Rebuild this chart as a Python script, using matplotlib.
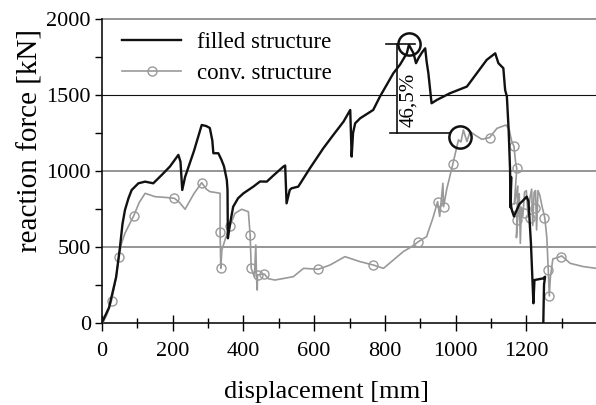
import numpy as np
import matplotlib
matplotlib.use("Agg")
import matplotlib.pyplot as plt
from matplotlib.lines import Line2D

plt.rcParams['font.family'] = ['Liberation Serif', 'DejaVu Serif']

# filled structure (black curve), displacement [mm] / reaction force [kN]
filled_x = [0, 20, 40, 51, 58, 65, 75, 84, 103, 122, 145, 169, 192, 216, 222, 227,
            235, 260, 282, 295, 305, 312, 315, 329, 338, 345, 353, 355, 356, 362,
            371, 385, 400, 428, 447, 466, 485, 513, 518, 522, 531, 536, 555, 588,
            626, 654, 683, 702, 704, 706, 710, 716, 730, 767, 786, 805, 824, 843,
            862, 868, 875, 881, 888, 895, 905, 914, 918, 923, 932, 947, 984, 1032,
            1060, 1088, 1112, 1121, 1135, 1140, 1145, 1150, 1154, 1155, 1157, 1156,
            1159, 1165, 1180, 1192, 1201, 1206, 1213, 1220, 1223, 1248, 1253, 1250,
            1248]
filled_y = [0, 100, 300, 500, 650, 742, 820, 874, 918, 929, 918, 973, 1028, 1105, 1060, 874,
            960, 1130, 1302, 1295, 1282, 1200, 1116, 1116, 1072, 1030, 940, 874, 556, 650,
            764, 820, 852, 896, 930, 929, 970, 1028, 1035, 786, 874, 885, 896, 1017,
            1149, 1236, 1324, 1401, 1250, 1094, 1250, 1313, 1346, 1401, 1489, 1566, 1643, 1700,
            1774, 1830, 1800, 1774, 1709, 1742, 1780, 1807, 1720, 1643, 1445, 1467, 1511, 1555,
            1643, 1731, 1774, 1709, 1676, 1533, 1489, 1268, 1006, 760, 960, 780,
            742, 700, 780, 808, 830, 800, 523, 128, 281, 292, 303, 250,
            0]

# conventional structure (grey curve)
conv_x = [0, 4, 15, 27, 37, 48, 55, 65, 78, 90, 105, 122, 150, 180, 205, 220, 235, 260,
          282, 295, 305, 320, 334, 334, 336, 339, 350, 362, 376, 395, 414, 419, 422,
          431, 435, 437, 439, 440, 450, 459, 470, 489, 541, 570, 612, 645, 687, 730,
          767, 796, 824, 852, 875, 895, 918, 937, 949, 955, 964, 966, 975, 992, 1008,
          1015, 1022, 1032, 1041, 1055, 1074, 1096, 1117, 1143, 1152, 1158, 1165, 1170,
          1173, 1166, 1176, 1172, 1180, 1183, 1186, 1190, 1195, 1200, 1205, 1210, 1215,
          1218, 1222, 1226, 1229, 1233, 1238, 1245, 1252, 1258, 1262, 1265, 1268, 1275,
          1290, 1300, 1324, 1360, 1398]
conv_y = [0, 7, 60, 145, 260, 431, 520, 589, 650, 705, 790, 852, 830, 825, 819, 790, 747, 850,
          922, 880, 863, 858, 852, 600, 358, 479, 560, 637, 720, 747, 731, 578, 358,
          303, 512, 300, 215, 314, 318, 321, 290, 281, 303, 358, 352, 380, 435, 402,
          380, 358, 413, 468, 500, 534, 567, 698, 797, 700, 918, 764, 880, 1043, 1204,
          1190, 1269, 1193, 1258, 1236, 1208, 1219, 1280, 1302, 1269, 1200, 1160, 1050,
          1017, 780, 900, 560, 850, 523, 760, 700, 860, 870, 700, 820, 880,
          640, 860, 870, 611, 870, 840, 760, 694, 560, 347, 176, 300, 420,
          430, 440, 391, 370, 358]
conv_mx = [27, 48, 90, 205, 282, 334, 336, 362, 419, 422, 440, 459, 612, 767, 895, 949,
           966, 992, 1096, 1165, 1175, 1168, 1175, 1192, 1211, 1225, 1250, 1262, 1265, 1299]
conv_my = [145, 431, 705, 819, 922, 600, 358, 637, 578, 358, 314, 321, 352, 380, 534, 797,
           764, 1043, 1219, 1165, 1017, 764, 677, 721, 688, 753, 690, 347, 176, 431]

# peak comparison
peak_x = [868, 1013]
peak_y = [1834, 1225]
drop_label = "46,5%"

black = "#111111"
grey = "#999999"

fig = plt.figure(figsize=(5.96, 4.05), dpi=100)
ax = fig.add_axes([0.1711, 0.2032, 0.8289, 0.7499])

for g in [500, 1000, 2000]:
    ax.axhline(g, color="#8c8c8c", lw=1.3, zorder=1, clip_on=False)
ax.axhline(1500, color=black, lw=0.8, zorder=1)

ax.plot(conv_x, conv_y, color=grey, lw=1.2, zorder=3)
ax.plot(conv_mx, conv_my, 'o', ms=6.5, mfc='none', mec=grey, mew=1.0, zorder=3)
ax.plot(filled_x, filled_y, color=black, lw=1.7, zorder=4)

# dimension lines and circles
ax.plot(peak_x, peak_y, 'o', ms=16, mfc='none', mec=black, mew=1.8, zorder=5)
ax.plot([803, 885], [peak_y[0], peak_y[0]], color=black, lw=1.2, zorder=5)
ax.plot([815, 984], [1252, 1252], color=black, lw=1.2, zorder=5)
ax.plot([835, 835], [peak_y[0], 1252], color=black, lw=1.2, zorder=5)
ax.text(866, 1470, drop_label, rotation=90, ha='center', va='center', fontsize=15,
        zorder=2, bbox=dict(facecolor='white', edgecolor='none', pad=2))

ax.set_xlim(0, 1397)
ax.set_ylim(0, 2000)
ax.set_xticks(np.arange(0, 1201, 200))
ax.set_xticks(np.arange(100, 1400, 200), minor=True)
ax.set_yticks(np.arange(0, 2001, 500))
ax.set_yticks(np.arange(250, 2000, 500), minor=True)
ax.tick_params(axis='x', which='major', direction='inout', length=12, width=1, pad=8,
               labelsize=16)
ax.tick_params(axis='x', which='minor', direction='inout', length=7, width=1)
ax.tick_params(axis='y', which='major', direction='out', length=5, width=1, pad=3,
               labelsize=16)
ax.tick_params(axis='y', which='minor', direction='out', length=5, width=1)
for s in ['top', 'right']:
    ax.spines[s].set_visible(False)
for s in ['left', 'bottom']:
    ax.spines[s].set_linewidth(1.2)
    ax.spines[s].set_color(black)

handles = [Line2D([], [], color=black, lw=1.7),
           Line2D([], [], color=grey, lw=1.2, marker='o', ms=6.5, mfc='none', mec=grey)]
ax.legend(handles, ["filled structure", "conv. structure"], loc='upper left',
          bbox_to_anchor=(0.04, 0.958), frameon=False, fontsize=16.5, borderpad=0,
          borderaxespad=0, handlelength=2.6, handletextpad=0.7, labelspacing=0.45)

fig.text(327 / 596, 1 - 392 / 405, "displacement [mm]", ha='center', va='center', fontsize=19)
fig.text(31 / 596, 1 - 141 / 405, "reaction force [kN]", ha='center', va='center',
         rotation=90, fontsize=21)

fig.savefig("out.png", dpi=100)
